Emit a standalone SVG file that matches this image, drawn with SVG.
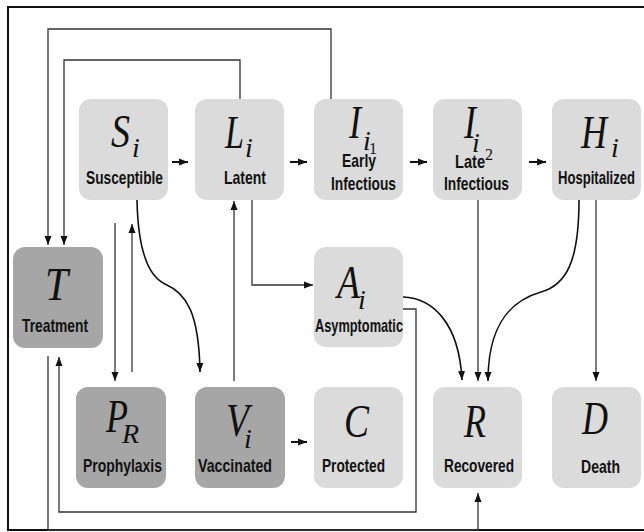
<svg xmlns="http://www.w3.org/2000/svg" width="644" height="532" viewBox="0 0 644 532">
<style>
.lt{fill:#dbdbdb}
.dk{fill:#a6a6a6}
.big{font-family:"Liberation Serif","Times New Roman",serif;font-style:italic;font-size:47px;fill:#111}
.sub{font-family:"Liberation Serif","Times New Roman",serif;font-style:italic;font-size:28px;fill:#111}
.dig{font-family:"Liberation Serif","Times New Roman",serif;font-size:16px;fill:#111}
.lab{font-family:"Liberation Sans",Arial,sans-serif;font-weight:bold;font-size:19px;fill:#111}
.c{fill:none;stroke:#333;stroke-width:1.3}
.cv{fill:none;stroke:#111;stroke-width:1.6}
.sh{fill:none;stroke:#111;stroke-width:2}
</style>
<defs>
<marker id="ah" markerUnits="userSpaceOnUse" markerWidth="10" markerHeight="10" viewBox="0 0 10 10" refX="9" refY="5" orient="auto">
<path d="M0,1.5 L9,5 L0,8.5 Z" fill="#111"/>
</marker>
</defs>
<rect width="644" height="532" fill="#fff"/>
<path d="M646,7 H8 V530 H646" fill="none" stroke="#111" stroke-width="2"/>

<g id="connectors">
<path class="c" d="M331,99 V29 H48 V245" marker-end="url(#ah)"/>
<path class="c" d="M240,99 V60 H64 V245" marker-end="url(#ah)"/>
<path class="sh" d="M172,162 H188" marker-end="url(#ah)"/>
<path class="sh" d="M290,162 H307" marker-end="url(#ah)"/>
<path class="sh" d="M410,162 H427" marker-end="url(#ah)"/>
<path class="sh" d="M529,162 H546" marker-end="url(#ah)"/>
<path class="sh" d="M291,442 H307" marker-end="url(#ah)"/>
<path class="c" d="M115,223 V381" marker-end="url(#ah)"/>
<path class="c" d="M132,372 V224" marker-end="url(#ah)"/>
<path class="cv" d="M137,200 C138,250 148,276 165,284 C186,293 199,312 200,372" marker-end="url(#ah)"/>
<path class="c" d="M234,381 V201" marker-end="url(#ah)"/>
<path class="c" d="M252,200 V285 H313" marker-end="url(#ah)"/>
<path class="cv" d="M403,297 C432,298 459,322 462,380" marker-end="url(#ah)"/>
<path class="c" d="M403,309 H416 V512 H59 V357" marker-end="url(#ah)"/>
<path class="c" d="M48,356 V530 H478 V493" marker-end="url(#ah)"/>
<path class="c" d="M478,200 V381" marker-end="url(#ah)"/>
<path class="cv" d="M579,200 C579,262 566,285 541,292 C506,302 488,330 488,381" marker-end="url(#ah)"/>
<path class="c" d="M596,200 V381" marker-end="url(#ah)"/>
</g>

<g id="S">
<rect class="lt" x="79" y="99" width="89" height="101" rx="12"/>
<text class="big" x="111" y="147" textLength="19" lengthAdjust="spacingAndGlyphs">S</text>
<text class="sub" x="132" y="157">i</text>
<text class="lab" x="86" y="184" textLength="77" lengthAdjust="spacingAndGlyphs">Susceptible</text>
</g>
<g id="L">
<rect class="lt" x="195" y="99" width="89" height="101" rx="12"/>
<text class="big" x="225" y="148" textLength="19" lengthAdjust="spacingAndGlyphs">L</text>
<text class="sub" x="245" y="157">i</text>
<text class="lab" x="224" y="184" textLength="42" lengthAdjust="spacingAndGlyphs">Latent</text>
</g>
<g id="I1">
<rect class="lt" x="314" y="99" width="89" height="101" rx="12"/>
<text class="big" x="349" y="138" textLength="12" lengthAdjust="spacingAndGlyphs">I</text>
<text class="sub" x="363" y="150" font-size="24">i</text>
<text class="dig" x="369" y="154">1</text>
<text class="lab" x="342" y="167" textLength="34" lengthAdjust="spacingAndGlyphs">Early</text>
<text class="lab" x="331" y="190" textLength="65" lengthAdjust="spacingAndGlyphs">Infectious</text>
</g>
<g id="I2">
<rect class="lt" x="433" y="99" width="89" height="101" rx="12"/>
<text class="big" x="464" y="138" textLength="12" lengthAdjust="spacingAndGlyphs">I</text>
<text class="sub" x="472" y="152" font-size="24">i</text>
<text class="dig" x="485" y="160" font-size="18">2</text>
<text class="lab" x="455" y="168" textLength="30" lengthAdjust="spacingAndGlyphs">Late</text>
<text class="lab" x="444" y="190" textLength="65" lengthAdjust="spacingAndGlyphs">Infectious</text>
</g>
<g id="H">
<rect class="lt" x="552" y="99" width="89" height="101" rx="12"/>
<text class="big" x="581" y="148" textLength="26" lengthAdjust="spacingAndGlyphs">H</text>
<text class="sub" x="611" y="157">i</text>
<text class="lab" x="558" y="184" textLength="77" lengthAdjust="spacingAndGlyphs">Hospitalized</text>
</g>
<g id="T">
<rect class="dk" x="13" y="247" width="90" height="101" rx="12"/>
<text class="big" x="45" y="300" textLength="23" lengthAdjust="spacingAndGlyphs">T</text>
<text class="lab" x="22" y="332" textLength="66" lengthAdjust="spacingAndGlyphs">Treatment</text>
</g>
<g id="A">
<rect class="lt" x="314" y="247" width="89" height="100" rx="12"/>
<text class="big" x="337" y="298" textLength="23" lengthAdjust="spacingAndGlyphs">A</text>
<text class="sub" x="358" y="309">i</text>
<text class="lab" x="315" y="332" textLength="88" lengthAdjust="spacingAndGlyphs">Asymptomatic</text>
</g>
<g id="P">
<rect class="dk" x="76" y="387" width="90" height="101" rx="12"/>
<text class="big" x="106" y="432" textLength="22" lengthAdjust="spacingAndGlyphs">P</text>
<text class="sub" x="122" y="443" font-size="23">R</text>
<text class="lab" x="83" y="472" textLength="79" lengthAdjust="spacingAndGlyphs">Prophylaxis</text>
</g>
<g id="V">
<rect class="dk" x="195" y="387" width="90" height="101" rx="12"/>
<text class="big" x="226" y="436" textLength="23" lengthAdjust="spacingAndGlyphs">V</text>
<text class="sub" x="244" y="448">i</text>
<text class="lab" x="198" y="472" textLength="74" lengthAdjust="spacingAndGlyphs">Vaccinated</text>
</g>
<g id="C">
<rect class="lt" x="314" y="387" width="89" height="101" rx="12"/>
<text class="big" x="344" y="437" textLength="25" lengthAdjust="spacingAndGlyphs">C</text>
<text class="lab" x="322" y="472" textLength="63" lengthAdjust="spacingAndGlyphs">Protected</text>
</g>
<g id="R">
<rect class="lt" x="433" y="387" width="89" height="101" rx="12"/>
<text class="big" x="464" y="437" textLength="22" lengthAdjust="spacingAndGlyphs">R</text>
<text class="lab" x="444" y="472" textLength="70" lengthAdjust="spacingAndGlyphs">Recovered</text>
</g>
<g id="D">
<rect class="lt" x="552" y="387" width="89" height="101" rx="12"/>
<text class="big" x="582" y="434" textLength="26" lengthAdjust="spacingAndGlyphs">D</text>
<text class="lab" x="581" y="473" textLength="39" lengthAdjust="spacingAndGlyphs">Death</text>
</g>
</svg>
